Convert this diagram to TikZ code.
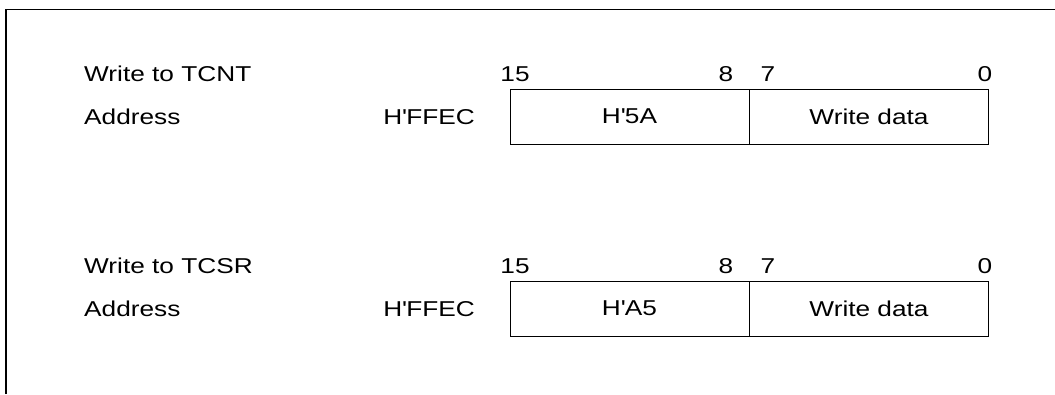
\documentclass[tikz,border=0pt]{standalone}
\usepackage{fontspec}
\setmainfont[FakeStretch=1.22]{Liberation Sans}

\begin{document}
\begin{tikzpicture}[x=1pt,y=-1pt,
    lbl/.style={inner sep=0pt,font=\fontsize{21.5}{25}\selectfont},
    field/.style={draw,line width=1pt,minimum width=239pt,minimum height=55pt,inner sep=0pt,font=\fontsize{21.5}{25}\selectfont}]

\useasboundingbox (0,0) rectangle (1055,394);
\draw[line width=1.8pt] (6,394) |- (1060,9.5);

\foreach \reg/\val/\y [count=\i] in {TCNT/5A/0,TCSR/A5/192}{
    \node[lbl,anchor=base west] (title\i) at (84,81+\y) {Write to \reg};
    \node[lbl,anchor=base west] (addr\i) at (84,124+\y) {Address};
    \node[lbl,anchor=base east] (hex\i) at (475,124+\y) {H\textquotesingle FFEC};
    \node[field] (hi\i) at (629.5,116.5+\y) {H\textquotesingle\val};
    \node[field] (lo\i) at (869,116.5+\y) {Write data};
    \node[lbl,anchor=base] (bfif\i) at (515,81+\y) {15};
    \node[lbl,anchor=base] (beig\i) at (726,81+\y) {8};
    \node[lbl,anchor=base] (bsev\i) at (768,81+\y) {7};
    \node[lbl,anchor=base] (bzer\i) at (985,81+\y) {0};
}

\end{tikzpicture}
\end{document}
